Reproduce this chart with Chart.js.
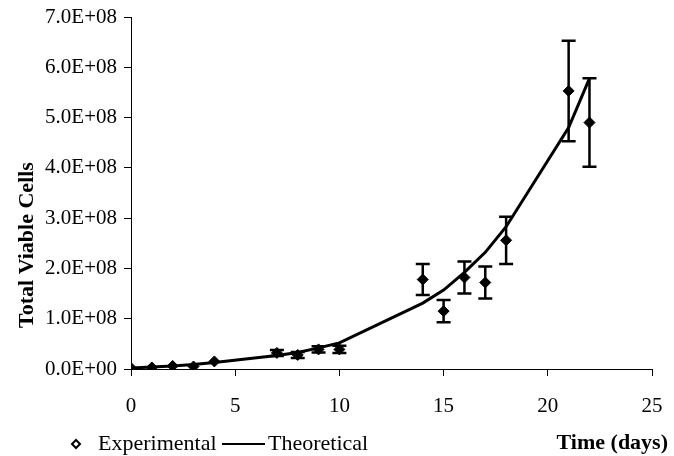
<!DOCTYPE html>
<html>
<head>
<meta charset="utf-8">
<script src="https://cdn.jsdelivr.net/npm/chart.js@4.4.1/dist/chart.umd.min.js"></script>
<style>
  body { margin: 0; background: #fff; }
</style>
</head>
<body>
<canvas id="growthChart" width="674" height="456"></canvas>
<script>
// days sampled in the experiment
const days = [0, 1, 2, 3, 4, 7, 8, 9, 10, 14, 15, 16, 17, 18, 21, 22];
// measured viable cells and their error
const experimental = [2e6, 3e6, 6e6, 5e6, 1.5e7, 3.2e7, 2.8e7, 3.9e7, 3.9e7, 1.78e8, 1.15e8, 1.82e8, 1.72e8, 2.56e8, 5.53e8, 4.9e8];
const experimentalErr = [0, 0, 0, 0, 0, 6e6, 6e6, 6e6, 7e6, 3.1e7, 2.2e7, 3.2e7, 3.2e7, 4.7e7, 1.0e8, 8.8e7];
// model curve
const theoretical = [2e6, 4e6, 6e6, 9e6, 1.3e7, 2.7e7, 3.3e7, 4.2e7, 5.2e7, 1.31e8, 1.57e8, 1.92e8, 2.32e8, 2.83e8, 4.8e8, 5.78e8];

const serif = "'Liberation Serif', 'Times New Roman', serif";

function sci(value) {
  if (value === 0) return "0.0E+00";
  const exp = Math.floor(Math.log10(value));
  const mant = (value / Math.pow(10, exp)).toFixed(1);
  return mant + "E+" + String(exp).padStart(2, "0");
}

// vertical error bars with caps
const errorBars = {
  id: "errorBars",
  afterDatasetsDraw(chart) {
    const ctx = chart.ctx;
    const xs = chart.scales.x;
    const ys = chart.scales.y;
    ctx.save();
    ctx.strokeStyle = "#000";
    ctx.lineWidth = 2.5;
    days.forEach((d, i) => {
      const err = experimentalErr[i];
      if (!err) return;
      const x = xs.getPixelForValue(d);
      const top = ys.getPixelForValue(experimental[i] + err);
      const bottom = ys.getPixelForValue(experimental[i] - err);
      ctx.beginPath();
      ctx.moveTo(x, top);
      ctx.lineTo(x, bottom);
      ctx.moveTo(x - 7, top);
      ctx.lineTo(x + 7, top);
      ctx.moveTo(x - 7, bottom);
      ctx.lineTo(x + 7, bottom);
      ctx.stroke();
    });
    ctx.restore();
  },
};

// y title, legend row and x title (Excel style layout)
const extraText = {
  id: "extraText",
  afterDraw(chart) {
    const ctx = chart.ctx;
    ctx.save();
    ctx.fillStyle = "#000";
    ctx.strokeStyle = "#000";

    ctx.save();
    ctx.translate(27, 245);
    ctx.rotate(-Math.PI / 2);
    ctx.font = "bold 22px " + serif;
    ctx.textAlign = "center";
    ctx.textBaseline = "middle";
    ctx.fillText("Total Viable Cells", 0, 0);
    ctx.restore();

    const rowY = 444;
    // hollow diamond
    ctx.lineWidth = 2;
    ctx.beginPath();
    ctx.moveTo(76, rowY - 4);
    ctx.lineTo(80, rowY);
    ctx.lineTo(76, rowY + 4);
    ctx.lineTo(72, rowY);
    ctx.closePath();
    ctx.fillStyle = "#fff";
    ctx.fill();
    ctx.stroke();

    ctx.fillStyle = "#000";
    ctx.font = "22px " + serif;
    ctx.textBaseline = "alphabetic";
    ctx.textAlign = "left";
    ctx.fillText("Experimental", 98, 450);

    ctx.beginPath();
    ctx.moveTo(222, rowY);
    ctx.lineTo(265, rowY);
    ctx.stroke();
    ctx.fillText("Theoretical", 268, 450);

    ctx.font = "bold 22px " + serif;
    ctx.textAlign = "right";
    ctx.fillText("Time (days)", 668, 449);
    ctx.restore();
  },
};

const ctx = document.getElementById("growthChart").getContext("2d");
const growthChart = new Chart(ctx, {
  type: "scatter",
  data: {
    datasets: [
      {
        label: "Experimental",
        data: days.map((d, i) => ({ x: d, y: experimental[i] })),
        pointStyle: "rectRot",
        pointRadius: 5.5,
        backgroundColor: "#000",
        borderColor: "#000",
        borderWidth: 1,
        showLine: false,
        order: 1,
      },
      {
        label: "Theoretical",
        data: days.map((d, i) => ({ x: d, y: theoretical[i] })),
        showLine: true,
        pointRadius: 0,
        borderColor: "#000",
        borderWidth: 3,
        tension: 0,
        order: 2,
      },
    ],
  },
  options: {
    responsive: false,
    animation: false,
    layout: {
      padding: { top: 17, right: 22, bottom: 37, left: 0 },
    },
    plugins: {
      legend: { display: false },
      tooltip: { enabled: false },
    },
    scales: {
      x: {
        type: "linear",
        min: 0,
        max: 25,
        ticks: {
          stepSize: 5,
          maxRotation: 0,
          color: "#000",
          padding: 18,
          font: { family: serif, size: 21 },
        },
        grid: {
          drawOnChartArea: false,
          tickLength: 7,
          color: "#000",
        },
        border: { color: "#000", width: 1 },
        afterFit: function (scale) {
          scale.height = 50;
          scale.paddingLeft = 0;
          scale.paddingRight = 0;
        },
      },
      y: {
        min: 0,
        max: 7e8,
        ticks: {
          stepSize: 1e8,
          color: "#000",
          padding: 7,
          font: { family: serif, size: 21 },
          callback: function (value) {
            return sci(value);
          },
        },
        grid: {
          drawOnChartArea: false,
          tickLength: 7,
          color: "#000",
        },
        border: { color: "#000", width: 1 },
        afterFit: function (scale) {
          scale.width = 131;
          scale.paddingTop = 0;
          scale.paddingBottom = 0;
        },
      },
    },
  },
  plugins: [errorBars, extraText],
});
</script>
</body>
</html>
